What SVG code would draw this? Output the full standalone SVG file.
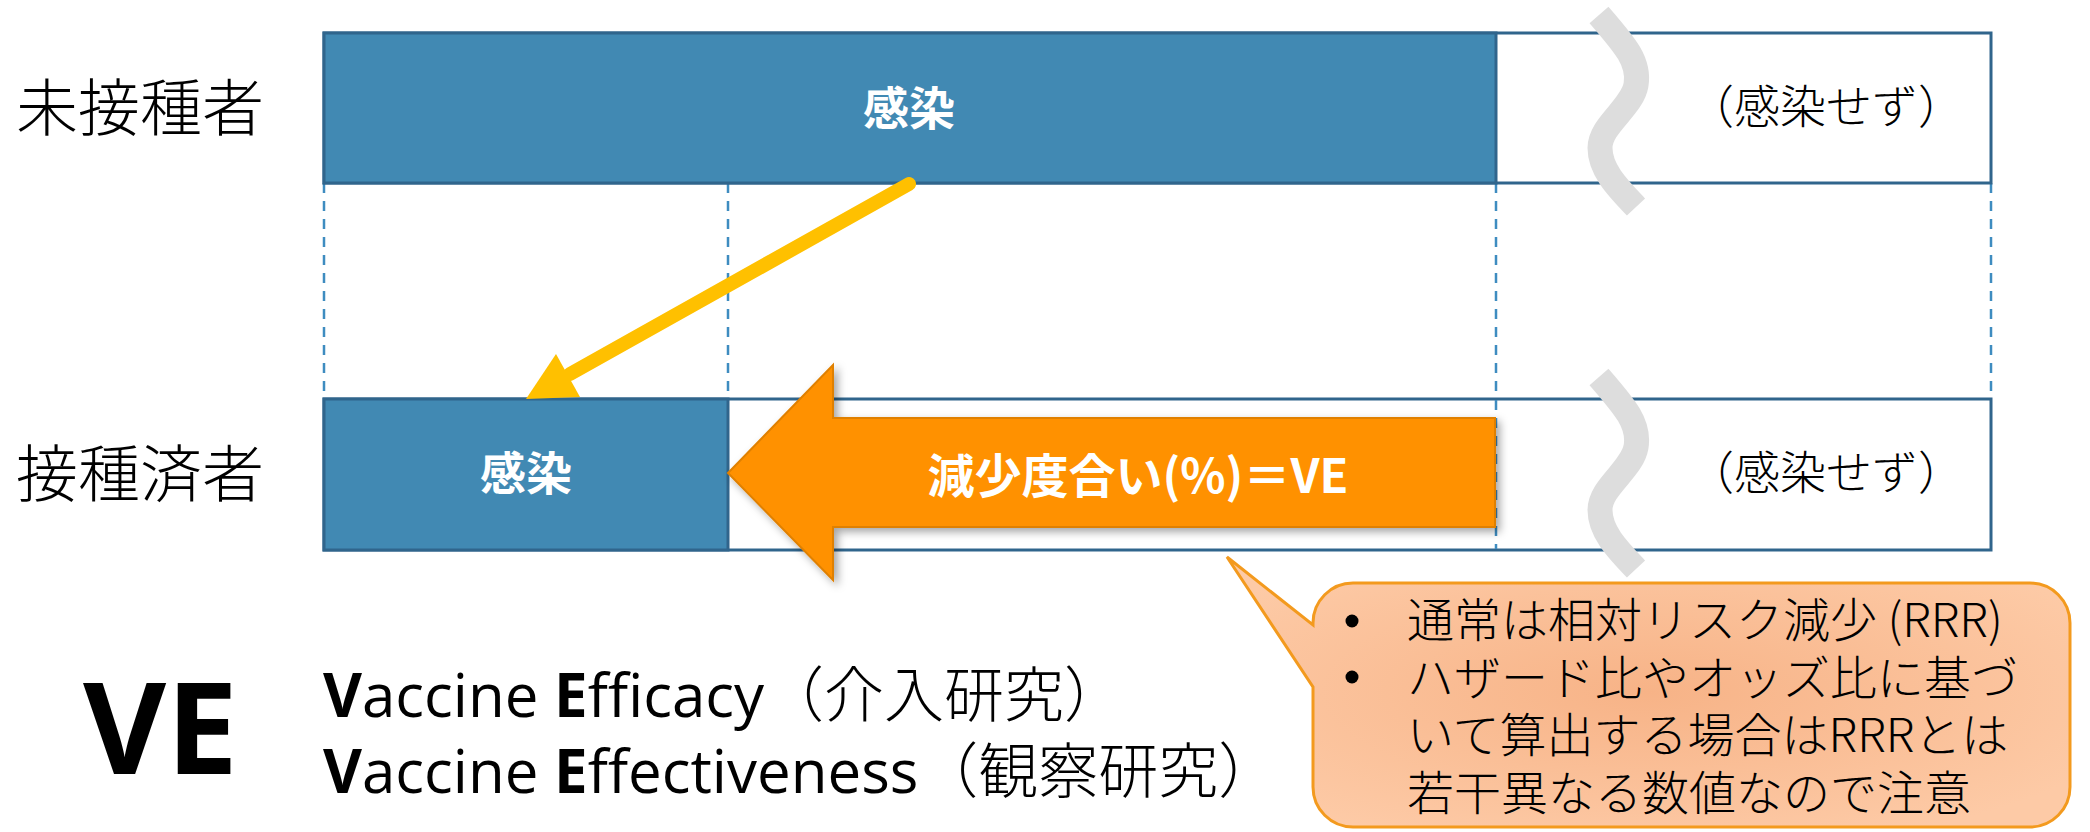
<svg xmlns="http://www.w3.org/2000/svg" width="2090" height="832" viewBox="0 0 2090 832">
<style>
.bar{fill:#fff;stroke:#30658C;stroke-width:3}
.inf{fill:#4189B3;stroke:#30658C;stroke-width:3}
.dash{stroke:#3E8CC0;stroke-width:2.5;stroke-dasharray:10 8;fill:none}
.sq{fill:none;stroke:#DDDDDD;stroke-width:25;stroke-linecap:butt}
.lbl{font-family:"Noto Sans CJK JP",sans-serif;font-weight:300;font-size:62px;fill:#000}
.wt{font-family:"Noto Sans CJK JP",sans-serif;font-weight:700;font-size:46px;fill:#fff;text-anchor:middle}
.ns{font-family:"Noto Sans CJK JP",sans-serif;font-weight:300;font-size:46px;fill:#000;text-anchor:middle}
.co{font-family:"Noto Sans CJK JP",sans-serif;font-weight:300;font-size:47px;fill:#000}
.en{font-family:"Open Sans","Noto Sans CJK JP",sans-serif;font-size:60px;fill:#000}
.cj{font-family:"Noto Sans CJK JP",sans-serif;font-weight:300}
</style>
<defs>
<filter id="sh" x="-10%" y="-10%" width="130%" height="130%">
<feDropShadow dx="4" dy="4" stdDeviation="4" flood-color="#000" flood-opacity="0.35"/>
</filter>
<radialGradient id="pg" cx="50%" cy="50%" r="60%">
<stop offset="0" stop-color="#F7B387"/>
<stop offset="1" stop-color="#FDCAA6"/>
</radialGradient>
</defs>

<g id="connectors">
<line class="dash" x1="324" y1="183" x2="324" y2="399"/>
<line class="dash" x1="728" y1="183" x2="728" y2="399"/>
<line class="dash" x1="1496" y1="183" x2="1496" y2="550"/>
<line class="dash" x1="1991" y1="183" x2="1991" y2="399"/>
</g>

<g id="row-unvaccinated">
<rect class="bar" x="324" y="33" width="1667" height="150"/>
<rect class="inf" x="324" y="33" width="1172" height="150"/>
<text class="wt" x="909" y="125">感染</text>
<text class="ns" x="1826" y="123">（感染せず）</text>
<path class="sq" d="M1599,15 C1625,45 1640,62 1636,85 C1632,108 1600,125 1600,148 C1600,170 1618,188 1636,207"/>
</g>
<text id="label-unvaccinated" class="lbl" x="16" y="131">未接種者</text>

<g id="row-vaccinated">
<rect class="bar" x="324" y="399" width="1667" height="151"/>
<rect class="inf" x="324" y="399" width="404" height="151"/>
<line class="dash" x1="1496" y1="400" x2="1496" y2="549"/>
<text class="wt" x="526" y="490">感染</text>
<text class="ns" x="1826" y="489">（感染せず）</text>
<path class="sq" d="M1599,377 C1625,407 1640,424 1636,447 C1632,470 1600,487 1600,510 C1600,532 1618,550 1636,569"/>
</g>
<text id="label-vaccinated" class="lbl" x="16" y="497">接種済者</text>

<g id="yellow-arrow">
<line x1="909" y1="184" x2="570" y2="374" stroke="#FFC000" stroke-width="14" stroke-linecap="round"/>
<polygon points="526,399 556,354 580,397" fill="#FFC000"/>
</g>

<g id="ve-arrow">
<polygon points="728,473 833,365 833,418 1495,418 1495,527 833,527 833,580" fill="#FF9100" stroke="#E08000" stroke-width="2" filter="url(#sh)"/>
<text class="wt" x="1138" y="493" style="font-size:47px">減少度合い(%)＝VE</text>
</g>

<g id="callout">
<path d="M1353,583 H2030 A40,40 0 0 1 2070,623 V787 A40,40 0 0 1 2030,827 H1353 A40,40 0 0 1 1313,787 V687 L1227,557 L1313,625 V623 A40,40 0 0 1 1353,583 Z" fill="url(#pg)" stroke="#F39A1E" stroke-width="3"/>
<circle cx="1352" cy="621" r="6.5" fill="#000"/>
<circle cx="1352" cy="677" r="6.5" fill="#000"/>
<text class="co" x="1407" y="637">通常は相対リスク減少 (RRR)</text>
<text class="co" x="1407" y="695">ハザード比やオッズ比に基づ</text>
<text class="co" x="1407" y="752">いて算出する場合はRRRとは</text>
<text class="co" x="1407" y="810">若干異なる数値なので注意</text>
</g>

<g id="ve-legend">
<text x="83" y="774" style="font-family:'Open Sans',sans-serif;font-weight:700;font-size:128px;fill:#000">VE</text>
<text class="en" x="323" y="717"><tspan font-weight="700">V</tspan>accine <tspan font-weight="700">E</tspan>fficacy<tspan class="cj">（介入研究）</tspan></text>
<text class="en" x="323" y="793"><tspan font-weight="700">V</tspan>accine <tspan font-weight="700">E</tspan>ffectiveness<tspan class="cj">（観察研究）</tspan></text>
</g>
</svg>
